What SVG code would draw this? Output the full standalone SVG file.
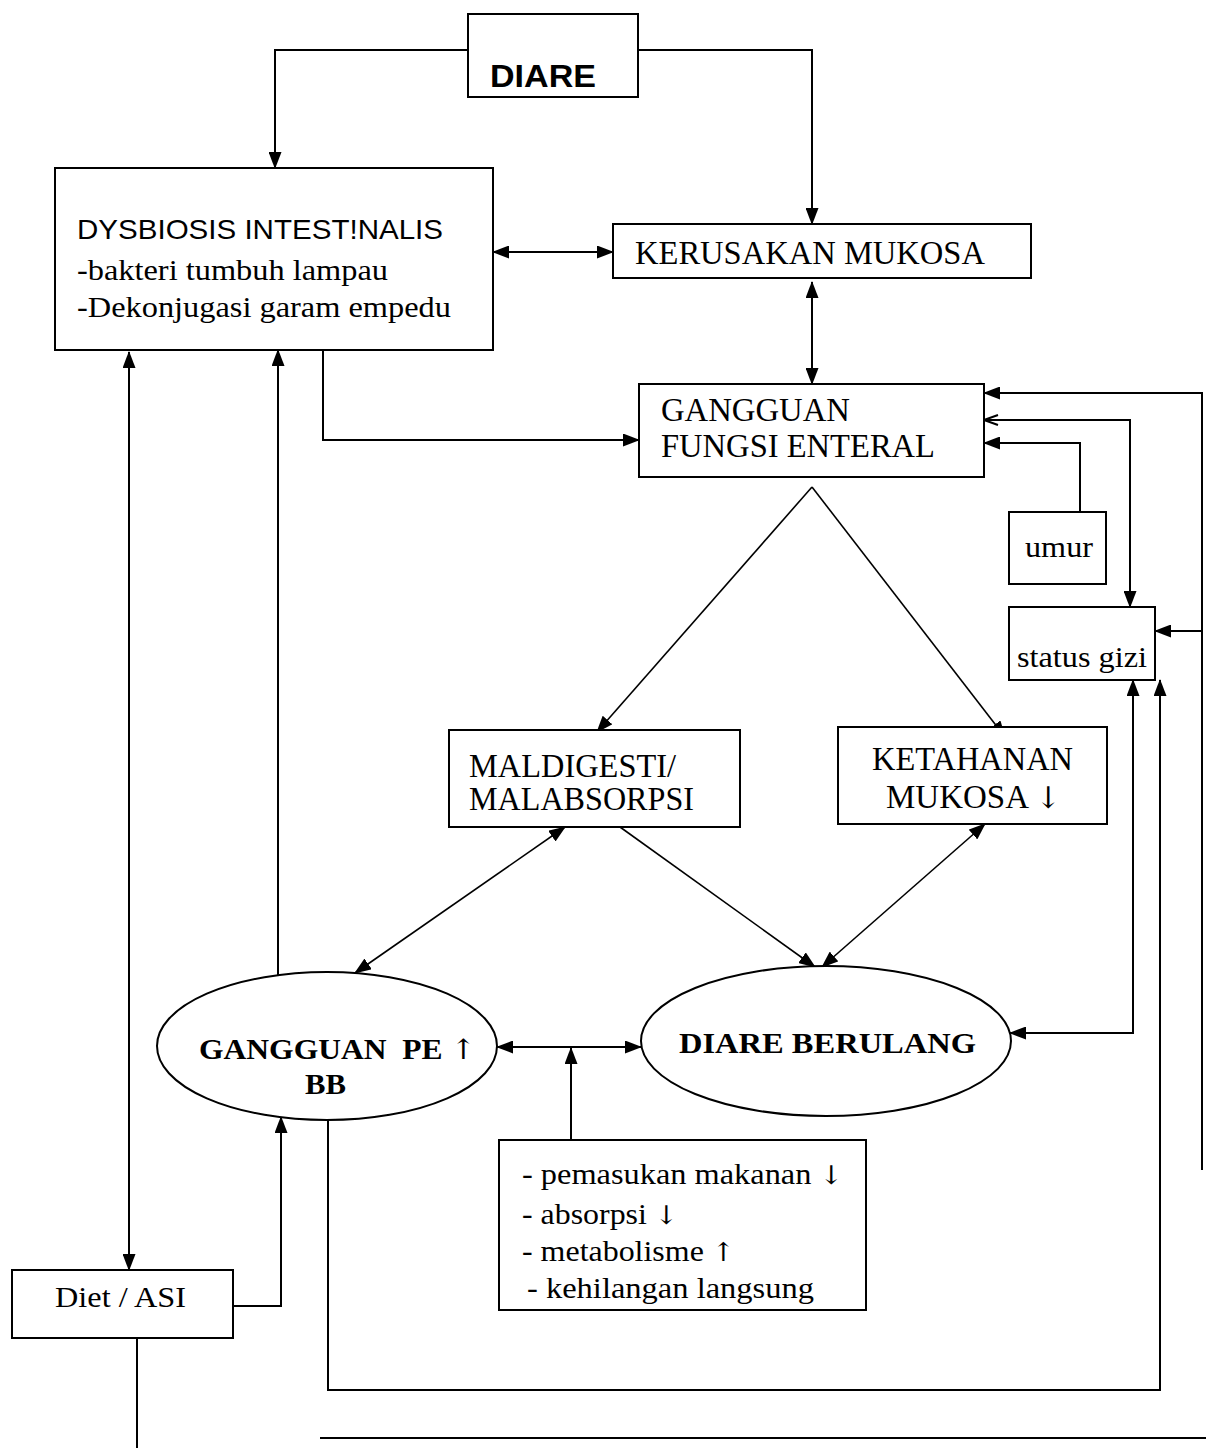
<svg xmlns="http://www.w3.org/2000/svg" width="1206" height="1448" viewBox="0 0 1206 1448">
<style>
.box{fill:#fff;stroke:#000;stroke-width:2}
.ser{font-family:"Liberation Serif","Times New Roman",serif;fill:#000}
.san{font-family:"Liberation Sans",Arial,sans-serif;fill:#000}
.arr{font-family:"DejaVu Serif","DejaVu Sans",serif;font-weight:normal}
.c{fill:none;stroke:#000;stroke-width:2}
.d{fill:none;stroke:#000;stroke-width:1.6}
</style>
<defs>
<marker id="ah" markerUnits="userSpaceOnUse" markerWidth="17" markerHeight="13" refX="16" refY="6.5" orient="auto-start-reverse" viewBox="0 0 17 13">
<path d="M0,0 L17,6.5 L0,13 z" fill="#000"/>
</marker>
<marker id="ao" markerUnits="userSpaceOnUse" markerWidth="16" markerHeight="12" refX="15" refY="6" orient="auto" viewBox="0 0 16 12">
<path d="M1,1 L15,6 L1,11" fill="none" stroke="#000" stroke-width="2"/>
</marker>
</defs>
<rect width="1206" height="1448" fill="#fff"/>
<g id="connectors">
<path class="c" d="M468,50 H275 V168" marker-end="url(#ah)"/>
<path class="c" d="M638,50 H812 V224" marker-end="url(#ah)"/>
<path class="c" d="M493,252 H613" marker-start="url(#ah)" marker-end="url(#ah)"/>
<path class="c" d="M812,282 V384" marker-start="url(#ah)" marker-end="url(#ah)"/>
<path class="c" d="M323,350 V440 H639" marker-end="url(#ah)"/>
<path class="c" d="M278,975 V350" marker-end="url(#ah)"/>
<path class="c" d="M129,352 V1270" marker-start="url(#ah)" marker-end="url(#ah)"/>
<path class="c" d="M1202,1170 V393 H984" marker-end="url(#ah)"/>
<path class="c" d="M1202,631 H1155" marker-end="url(#ah)"/>
<path class="c" d="M1130,607 V420 H984" marker-start="url(#ah)" marker-end="url(#ao)"/>
<path class="c" d="M1080,512 V443 H984" marker-end="url(#ah)"/>
<path class="c" d="M1133,680 V1033 H1010" marker-start="url(#ah)" marker-end="url(#ah)"/>
<path class="c" d="M328,1120 V1390 H1160 V680" marker-end="url(#ah)"/>
<path class="d" d="M812,487 L597,732" marker-end="url(#ah)"/>
<path class="d" d="M812,487 L1005,737" marker-end="url(#ah)"/>
<path class="d" d="M565,827 L355,973" marker-start="url(#ah)" marker-end="url(#ah)"/>
<path class="d" d="M620,827 L815,967" marker-end="url(#ah)"/>
<path class="d" d="M985,824 L822,967" marker-start="url(#ah)" marker-end="url(#ah)"/>
<path class="c" d="M497,1047 H641" marker-start="url(#ah)" marker-end="url(#ah)"/>
<path class="c" d="M571,1140 V1048" marker-end="url(#ah)"/>
<path class="c" d="M233,1306 H281 V1117" marker-end="url(#ah)"/>
<path class="c" d="M137,1338 V1448"/>
<path class="c" d="M320,1438 H1206"/>
</g>
<g id="diare">
<rect class="box" x="468" y="14" width="170" height="83"/>
<text class="san" x="490" y="87" font-size="32" font-weight="bold" textLength="106" lengthAdjust="spacingAndGlyphs">DIARE</text>
</g>
<g id="dysbiosis">
<rect class="box" x="55" y="168" width="438" height="182"/>
<text class="san" x="77" y="239" font-size="28" textLength="366" lengthAdjust="spacingAndGlyphs">DYSBIOSIS INTEST!NALIS</text>
<text class="ser" x="77" y="280" font-size="30" textLength="311" lengthAdjust="spacingAndGlyphs">-bakteri tumbuh lampau</text>
<text class="ser" x="77" y="317" font-size="30" textLength="374" lengthAdjust="spacingAndGlyphs">-Dekonjugasi garam empedu</text>
</g>
<g id="kerusakan">
<rect class="box" x="613" y="224" width="418" height="54"/>
<text class="ser" x="635" y="264" font-size="33" textLength="350" lengthAdjust="spacingAndGlyphs">KERUSAKAN MUKOSA</text>
</g>
<g id="fungsi">
<rect class="box" x="639" y="384" width="345" height="93"/>
<text class="ser" x="661" y="421" font-size="33" textLength="189" lengthAdjust="spacingAndGlyphs">GANGGUAN</text>
<text class="ser" x="661" y="457" font-size="33" textLength="274" lengthAdjust="spacingAndGlyphs">FUNGSI ENTERAL</text>
</g>
<g id="umur">
<rect class="box" x="1009" y="512" width="97" height="72"/>
<text class="ser" x="1025" y="557" font-size="29" textLength="68" lengthAdjust="spacingAndGlyphs">umur</text>
</g>
<g id="statusgizi">
<rect class="box" x="1009" y="607" width="146" height="73"/>
<text class="ser" x="1017" y="667" font-size="29" textLength="130" lengthAdjust="spacingAndGlyphs">status gizi</text>
</g>
<g id="maldigesti">
<rect class="box" x="449" y="730" width="291" height="97"/>
<text class="ser" x="469" y="777" font-size="33" textLength="207" lengthAdjust="spacingAndGlyphs">MALDIGESTI/</text>
<text class="ser" x="469" y="810" font-size="33" textLength="225" lengthAdjust="spacingAndGlyphs">MALABSORPSI</text>
</g>
<g id="ketahanan">
<rect class="box" x="838" y="727" width="269" height="97"/>
<text class="ser" x="872" y="770" font-size="33" textLength="201" lengthAdjust="spacingAndGlyphs">KETAHANAN</text>
<text class="ser" x="886" y="808" font-size="33">MUKOSA <tspan class="arr" font-size="30">↓</tspan></text>
</g>
<g id="gangguanpe">
<ellipse class="box" cx="327" cy="1046" rx="170" ry="74"/>
<text class="ser" x="199" y="1059" font-size="29" font-weight="bold" style="white-space:pre" textLength="277" lengthAdjust="spacingAndGlyphs">GANGGUAN  PE <tspan class="arr" font-size="28">↑</tspan></text>
<text class="ser" x="305" y="1094" font-size="29" font-weight="bold" textLength="41" lengthAdjust="spacingAndGlyphs">BB</text>
</g>
<g id="diareberulang">
<ellipse class="box" cx="826" cy="1041" rx="185" ry="75"/>
<text class="ser" x="679" y="1053" font-size="29" font-weight="bold" textLength="297" lengthAdjust="spacingAndGlyphs">DIARE BERULANG</text>
</g>
<g id="pemasukan">
<rect class="box" x="499" y="1140" width="367" height="170"/>
<text class="ser" x="522" y="1184" font-size="30" textLength="321" lengthAdjust="spacingAndGlyphs">- pemasukan makanan <tspan class="arr" font-size="26">↓</tspan></text>
<text class="ser" x="522" y="1224" font-size="30" textLength="156" lengthAdjust="spacingAndGlyphs">- absorpsi <tspan class="arr" font-size="26">↓</tspan></text>
<text class="ser" x="522" y="1261" font-size="30" textLength="213" lengthAdjust="spacingAndGlyphs">- metabolisme <tspan class="arr" font-size="26">↑</tspan></text>
<text class="ser" x="527" y="1298" font-size="30" textLength="287" lengthAdjust="spacingAndGlyphs">- kehilangan langsung</text>
</g>
<g id="diet">
<rect class="box" x="12" y="1270" width="221" height="68"/>
<text class="ser" x="55" y="1307" font-size="29" textLength="131" lengthAdjust="spacingAndGlyphs">Diet / ASI</text>
</g>
</svg>
